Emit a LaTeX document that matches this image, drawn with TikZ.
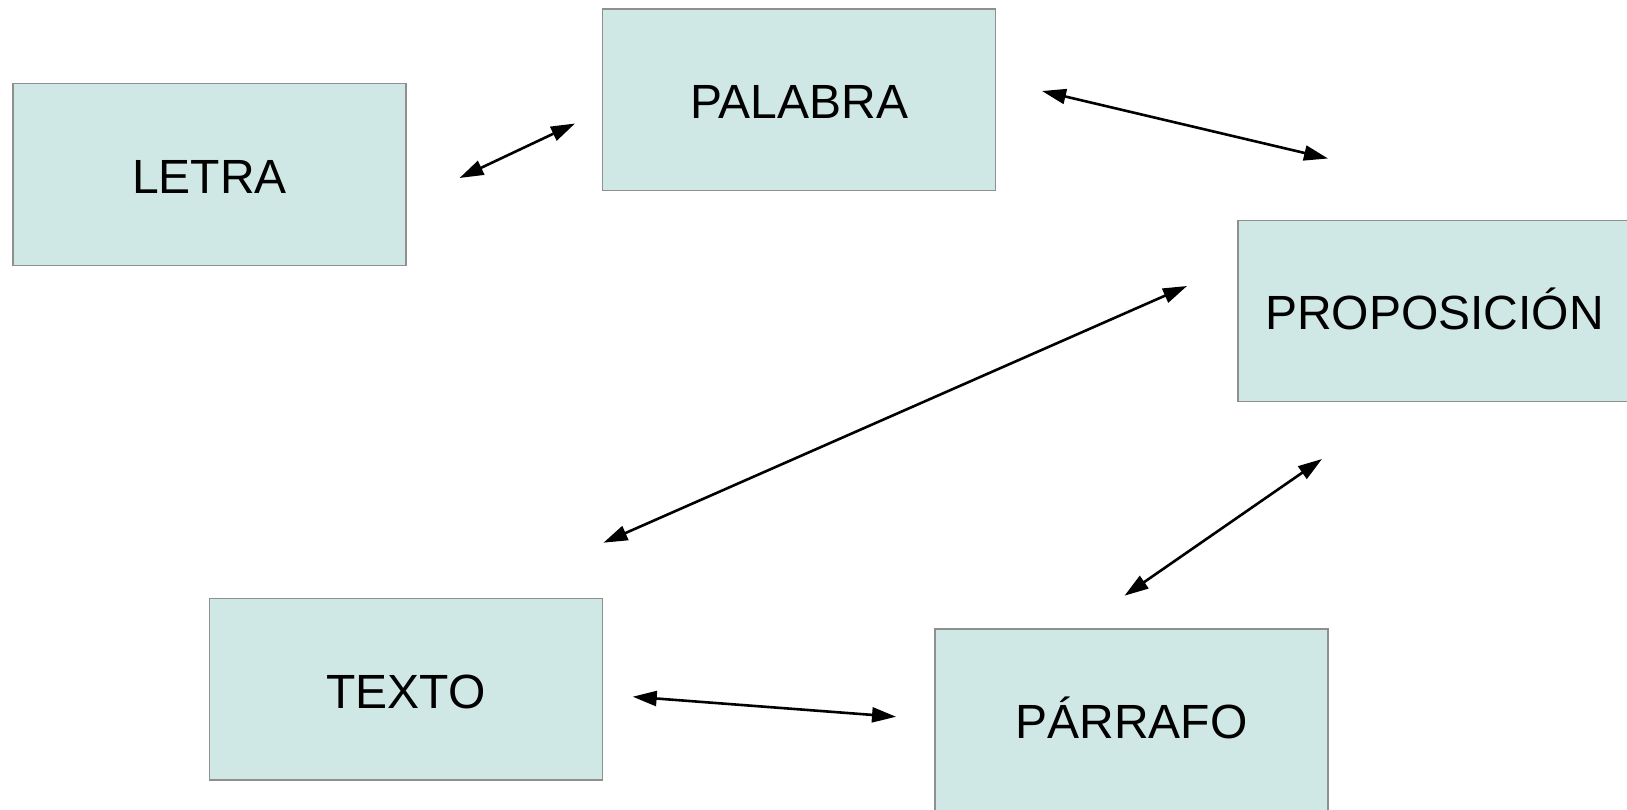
\documentclass[tikz,border=0pt]{standalone}
\usepackage{fontspec}
\setmainfont{Liberation Sans}
\usetikzlibrary{arrows.meta}
\definecolor{boxfill}{HTML}{CFE7E5}
\definecolor{boxline}{HTML}{8F8F8F}
\begin{document}
\begin{tikzpicture}[x=1pt,y=-1pt,
  concept/.style={draw=boxline, line width=1.2pt, fill=boxfill, rectangle,
    minimum width=393pt, minimum height=181.5pt, inner sep=0pt,
    text height=37.5pt, text depth=0pt,
    font=\fontsize{48}{58}\selectfont},
  link/.style={line width=2.6pt, {Triangle[length=24pt,width=15pt]}-{Triangle[length=24pt,width=15pt]}}]
\useasboundingbox (0,0) rectangle (1627,809);
\node[concept] (letra) at (209.5,174.5) {LETRA};
\node[concept] (palabra) at (799.3,99.7) {PALABRA};
\node[concept] (prop) at (1434.5,311) {};
\node[font=\fontsize{48}{58}\selectfont, text height=37.5pt, text depth=0pt, inner sep=0pt] (proptext) at (1434.5,311) {PROPOSICIÓN};
\node[concept] (texto) at (406.2,689.3) {TEXTO};
\node[concept] (parrafo) at (1131.5,719.7) {PÁRRAFO};
\coordinate (a1) at (459.5,178);
\coordinate (a2) at (575,123.5);
\coordinate (b1) at (1042,91);
\coordinate (b2) at (1328,158.5);
\coordinate (c1) at (1187,286);
\coordinate (c2) at (603.5,542.7);
\coordinate (d1) at (1322,459);
\coordinate (d2) at (1124.5,595.7);
\coordinate (e1) at (632.7,696.7);
\coordinate (e2) at (896,716.7);
\draw[link] (a1) -- (a2);
\draw[link] (b1) -- (b2);
\draw[link] (c1) -- (c2);
\draw[link] (d1) -- (d2);
\draw[link] (e1) -- (e2);
\end{tikzpicture}
\end{document}
